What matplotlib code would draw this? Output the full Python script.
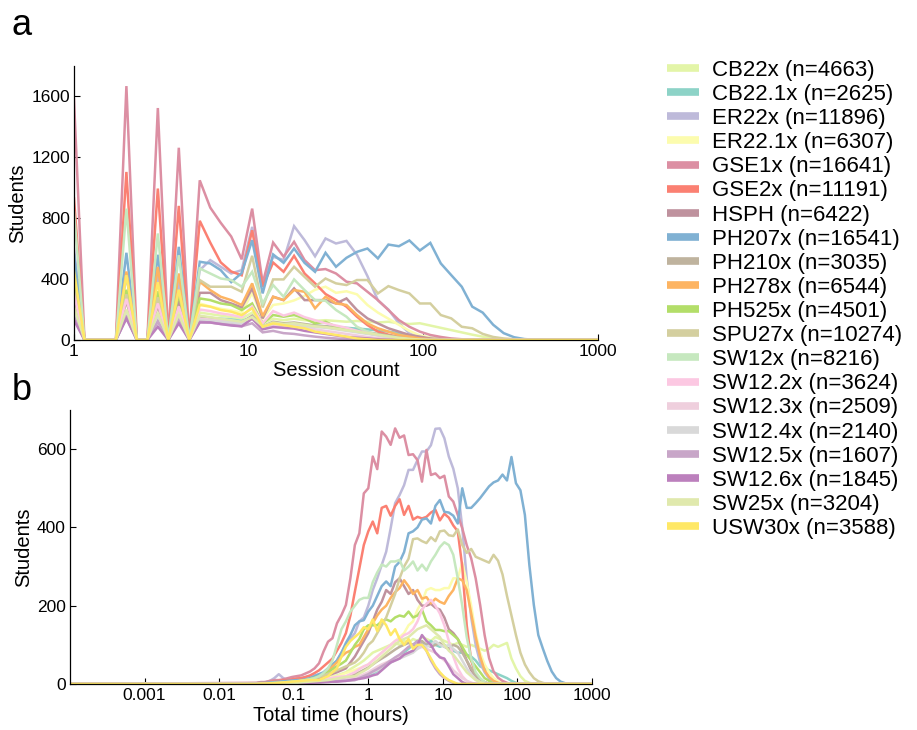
import numpy as np
import matplotlib
matplotlib.use("Agg")
import matplotlib.pyplot as plt
from matplotlib.lines import Line2D

plt.rcParams['font.family'] = ['Liberation Sans', 'DejaVu Sans']

# courses, enrolment counts and line colours (legend order = draw order)
courses = ['CB22x', 'CB22.1x', 'ER22x', 'ER22.1x', 'GSE1x', 'GSE2x', 'HSPH',
           'PH207x', 'PH210x', 'PH278x', 'PH525x', 'SPU27x', 'SW12x', 'SW12.2x',
           'SW12.3x', 'SW12.4x', 'SW12.5x', 'SW12.6x', 'SW25x', 'USW30x']
counts = [4663, 2625, 11896, 6307, 16641, 11191, 6422, 16541, 3035, 6544,
          4501, 10274, 8216, 3624, 2509, 2140, 1607, 1845, 3204, 3588]
colors = ['#e3f5a8', '#8dd3c7', '#bebada', '#fcfcae', '#dc8fa3', '#fb8072',
          '#bf929e', '#80b1d3', '#bfb39e', '#fdb462', '#b3de69', '#d4cf9f',
          '#c6e8bf', '#fcc8e2', '#efcfdd', '#d9d9d9', '#c8a6c8', '#bc80bd',
          '#e0e9ad', '#ffe866']

# panel a: students per session-count bin (log bins, 0.06 decade apart from 1)
sess_CB22x = [280, 0, 0, 0, 0, 250, 0, 0, 220, 0, 200, 0, 180, 170, 160, 150, 140, 180, 110, 140,
              130, 140, 130, 125, 130, 125, 120, 125, 120, 115, 120, 110, 105, 110, 95, 80, 65, 50,
              35, 22, 12, 5, 0]
sess_CB22_1x = [200, 0, 0, 0, 0, 150, 0, 0, 130, 0, 130, 0, 150, 145, 140, 135, 125, 150, 90, 110,
                100, 110, 100, 95, 90, 85, 80, 75, 70, 62, 55, 45, 35, 25, 15, 8, 3, 0]
sess_ER22x = [600, 0, 0, 0, 0, 420, 0, 0, 420, 0, 380, 0, 459, 525, 481, 437, 459, 743, 372, 547,
              525, 748, 656, 550, 667, 634, 651, 560, 420, 260, 200, 110, 45, 15, 5, 0]
sess_ER22_1x = [300, 0, 0, 0, 0, 280, 0, 0, 260, 0, 250, 0, 240, 220, 205, 195, 180, 310, 140, 230,
                240, 260, 290, 330, 350, 310, 320, 300, 230, 180, 140, 100, 60, 30, 15, 5, 0]
sess_GSE1x = [1580, 0, 0, 0, 0, 1668, 0, 0, 1524, 0, 1263, 0, 1049, 870, 770, 680, 530, 863, 372,
              640, 547, 645, 525, 459, 466, 437, 383, 372, 317, 262, 197, 131, 87, 55, 33, 20, 10,
              5, 2, 0]
sess_GSE2x = [930, 0, 0, 0, 0, 1104, 0, 0, 995, 0, 881, 0, 783, 640, 510, 450, 425, 721, 350, 509,
              448, 553, 437, 372, 302, 262, 219, 153, 98, 55, 35, 20, 10, 5, 2, 0]
sess_HSPH = [250, 0, 0, 0, 0, 260, 0, 0, 230, 0, 260, 0, 310, 310, 262, 240, 214, 339, 142, 284,
             262, 339, 262, 262, 262, 240, 273, 197, 142, 109, 77, 55, 33, 22, 10, 5, 0]
sess_PH207x = [560, 0, 0, 0, 0, 573, 0, 0, 560, 0, 612, 0, 514, 503, 459, 380, 440, 656, 306, 562,
               507, 601, 507, 448, 573, 481, 540, 579, 601, 536, 627, 616, 654, 588, 638, 503, 426,
               350, 219, 180, 100, 45, 18, 6, 2, 0]
sess_PH210x = [160, 0, 0, 0, 0, 150, 0, 0, 130, 0, 140, 0, 150, 145, 135, 125, 115, 160, 90, 120,
               110, 115, 105, 95, 90, 80, 70, 60, 50, 40, 30, 20, 12, 6, 2, 0]
sess_PH278x = [420, 0, 0, 0, 0, 450, 0, 0, 480, 0, 437, 0, 383, 328, 284, 262, 230, 372, 157, 284,
               262, 328, 317, 208, 284, 240, 230, 164, 109, 77, 55, 33, 22, 10, 5, 0]
sess_PH525x = [380, 0, 0, 0, 0, 330, 0, 0, 320, 0, 300, 0, 273, 262, 240, 230, 197, 240, 109, 164,
               153, 164, 142, 109, 120, 87, 77, 55, 44, 33, 22, 10, 5, 0]
sess_SPU27x = [330, 0, 0, 0, 0, 300, 0, 0, 280, 0, 330, 0, 394, 350, 350, 350, 317, 553, 214, 398,
               398, 481, 415, 350, 404, 372, 361, 394, 394, 306, 354, 328, 306, 240, 240, 164, 142,
               87, 77, 40, 20, 10, 5, 0]
sess_SW12x = [840, 0, 0, 0, 0, 863, 0, 0, 700, 0, 557, 0, 470, 437, 404, 394, 350, 448, 240, 361,
              284, 398, 328, 262, 258, 197, 153, 87, 55, 33, 15, 5, 0]
sess_SW12_2x = [300, 0, 0, 0, 0, 270, 0, 0, 240, 0, 220, 0, 200, 190, 175, 165, 150, 220, 110, 190,
                160, 180, 150, 130, 110, 95, 80, 60, 45, 30, 18, 8, 3, 0]
sess_SW12_3x = [200, 0, 0, 0, 0, 190, 0, 0, 170, 0, 160, 0, 140, 135, 130, 120, 110, 150, 80, 100,
                90, 95, 80, 70, 60, 50, 40, 30, 20, 12, 6, 2, 0]
sess_SW12_4x = [180, 0, 0, 0, 0, 180, 0, 0, 160, 0, 150, 0, 130, 125, 120, 115, 105, 140, 80, 110,
                100, 105, 90, 85, 80, 70, 60, 50, 40, 30, 20, 10, 4, 0]
sess_SW12_5x = [150, 0, 0, 0, 0, 160, 0, 0, 120, 0, 130, 0, 120, 115, 105, 100, 90, 110, 50, 60,
                45, 40, 30, 22, 15, 10, 5, 2, 0]
sess_SW12_6x = [130, 0, 0, 0, 0, 140, 0, 0, 87, 0, 109, 0, 115, 115, 105, 95, 90, 140, 70, 85,
                80, 75, 60, 50, 40, 30, 20, 15, 10, 5, 2, 0]
sess_SW25x = [220, 0, 0, 0, 0, 200, 0, 0, 180, 0, 170, 0, 160, 150, 140, 130, 120, 150, 90, 115,
              105, 110, 100, 90, 85, 75, 65, 55, 45, 35, 25, 15, 8, 3, 0]
sess_USW30x = [450, 0, 0, 0, 0, 426, 0, 0, 380, 0, 330, 0, 230, 219, 197, 186, 164, 208, 87, 109,
               98, 87, 77, 55, 44, 33, 22, 10, 5, 0]

# panel b: students per total-time bin (log bins, 0.06 decade apart from 10^-1.5 h)
time_CB22x = [0, 0, 1, 1, 2, 2, 3, 3, 4, 5, 6, 7, 8, 10, 12, 14, 16, 19, 22, 26,
              30, 38, 45, 52, 60, 70, 80, 85, 90, 95, 100, 105, 100, 110, 105, 115, 110, 120, 115, 110,
              120, 115, 110, 105, 100, 105, 100, 95, 100, 95, 90, 85, 90, 100, 95, 100, 105, 65, 40, 20,
              8, 3, 0]
time_CB22_1x = [0, 0, 0, 1, 1, 1, 2, 2, 2, 3, 3, 4, 5, 6, 7, 8, 9, 10, 11, 12,
                13, 14, 15, 17, 18, 20, 27, 33, 40, 48, 55, 62, 70, 80, 90, 100, 110, 105, 100, 110,
                100, 95, 100, 90, 85, 80, 80, 75, 70, 60, 45, 40, 35, 30, 25, 20, 15, 8, 3, 0]
time_ER22x = [2, 3, 5, 8, 15, 25, 15, 10, 12, 14, 15, 18, 20, 22, 25, 28, 32, 40, 60, 80,
              100, 115, 130, 160, 170, 200, 240, 270, 304, 338, 398, 462, 483, 508, 547, 547, 572, 594, 594, 610,
              652, 653, 628, 581, 550, 500, 400, 270, 170, 100, 55, 30, 14, 6, 2, 0]
time_ER22_1x = [0, 0, 1, 1, 2, 2, 3, 3, 4, 5, 6, 7, 8, 10, 12, 14, 16, 18, 20, 24,
                28, 32, 36, 40, 45, 50, 60, 70, 80, 90, 100, 110, 120, 130, 150, 160, 190, 210, 240, 245,
                240, 240, 245, 245, 270, 270, 310, 260, 200, 130, 80, 50, 30, 15, 7, 3, 0]
time_GSE1x = [3, 5, 5, 8, 10, 10, 12, 15, 18, 20, 22, 27, 32, 40, 53, 83, 108, 117, 155, 176,
              202, 270, 355, 385, 487, 500, 581, 549, 645, 632, 611, 653, 629, 635, 585, 587, 572, 517, 598, 534,
              538, 526, 532, 479, 466, 432, 398, 355, 321, 270, 202, 125, 66, 32, 16, 8, 3, 0]
time_GSE2x = [2, 3, 4, 5, 6, 8, 9, 10, 12, 14, 15, 18, 22, 28, 35, 45, 55, 65, 85, 105,
              130, 175, 236, 295, 355, 390, 415, 385, 450, 455, 430, 455, 472, 432, 455, 420, 427, 423, 427, 438,
              445, 418, 435, 425, 405, 390, 300, 150, 60, 25, 10, 4, 0]
time_HSPH = [0, 0, 1, 1, 2, 2, 3, 3, 4, 5, 6, 8, 10, 12, 15, 18, 22, 26, 30, 35,
             40, 55, 70, 90, 110, 130, 160, 190, 210, 240, 230, 260, 270, 250, 230, 240, 215, 200, 200, 205,
             195, 190, 170, 140, 130, 115, 90, 60, 35, 20, 10, 5, 0]
time_PH207x = [2, 3, 3, 4, 5, 6, 7, 8, 9, 10, 10, 12, 15, 20, 25, 30, 40, 50, 60, 80,
               105, 125, 150, 160, 163, 185, 200, 225, 250, 262, 250, 300, 312, 337, 385, 390, 400, 420, 423, 410,
               455, 470, 440, 438, 430, 410, 500, 450, 450, 462, 475, 490, 505, 515, 520, 535, 520, 580, 513, 495,
               432, 304, 202, 125, 91, 59, 32, 15, 6, 2, 0]
time_PH210x = [0, 0, 0, 1, 1, 1, 2, 2, 2, 3, 3, 4, 4, 5, 6, 7, 8, 10, 12, 14,
               16, 20, 25, 30, 36, 42, 50, 58, 65, 72, 80, 88, 95, 100, 105, 100, 95, 110, 100, 95,
               100, 105, 95, 90, 100, 95, 80, 60, 40, 22, 10, 4, 0]
time_PH278x = [0, 1, 1, 2, 2, 3, 3, 4, 5, 6, 8, 10, 12, 15, 18, 20, 30, 45, 55, 70,
               80, 85, 95, 100, 120, 140, 155, 175, 190, 200, 220, 235, 245, 265, 250, 230, 240, 218, 222, 206,
               218, 210, 205, 225, 240, 270, 265, 240, 180, 120, 70, 35, 18, 8, 3, 0]
time_PH525x = [0, 0, 1, 1, 2, 2, 3, 4, 5, 6, 8, 10, 13, 16, 20, 25, 30, 38, 45, 52,
               60, 80, 100, 115, 140, 150, 150, 150, 160, 165, 160, 170, 175, 172, 185, 170, 175, 190, 160, 150,
               138, 138, 135, 135, 125, 115, 95, 75, 60, 45, 30, 15, 8, 0]
time_SPU27x = [0, 0, 1, 1, 2, 2, 3, 4, 5, 6, 8, 10, 12, 15, 18, 22, 26, 30, 35, 40,
               45, 50, 55, 65, 80, 100, 110, 130, 150, 170, 200, 230, 270, 300, 320, 370, 372, 365, 360, 375,
               365, 390, 392, 380, 378, 395, 355, 335, 345, 325, 320, 315, 310, 330, 315, 280, 225, 175, 125, 80,
               50, 30, 15, 7, 3, 0]
time_SW12x = [1, 1, 2, 2, 3, 3, 4, 5, 6, 7, 8, 10, 12, 15, 20, 28, 40, 60, 100, 140,
              160, 185, 200, 215, 220, 220, 260, 285, 305, 300, 313, 313, 317, 290, 300, 313, 290, 305, 290, 313,
              330, 350, 362, 355, 330, 270, 200, 120, 65, 30, 15, 5, 0]
time_SW12_2x = [0, 0, 1, 1, 1, 2, 2, 3, 3, 4, 5, 6, 7, 8, 10, 12, 14, 16, 18, 19,
                20, 25, 30, 38, 45, 50, 60, 70, 80, 90, 100, 110, 115, 125, 130, 140, 160, 190, 205, 215,
                200, 180, 150, 110, 70, 40, 20, 8, 3, 0]
time_SW12_3x = [0, 0, 0, 1, 1, 1, 2, 2, 2, 3, 3, 4, 4, 5, 6, 7, 8, 9, 10, 11,
                12, 14, 15, 20, 25, 30, 37, 44, 50, 55, 60, 65, 70, 75, 80, 85, 90, 95, 90, 85,
                80, 70, 60, 50, 35, 25, 15, 8, 3, 0]
time_SW12_4x = [0, 0, 0, 0, 1, 1, 1, 2, 2, 2, 3, 3, 4, 4, 5, 5, 6, 7, 8, 8,
                9, 9, 10, 15, 20, 25, 30, 35, 40, 48, 55, 60, 65, 70, 75, 80, 90, 100, 95, 100,
                110, 100, 95, 100, 90, 80, 60, 40, 25, 12, 5, 0]
time_SW12_5x = [0, 0, 0, 1, 1, 1, 2, 2, 2, 3, 3, 3, 4, 4, 5, 5, 6, 6, 7, 8,
                8, 9, 10, 15, 20, 25, 32, 38, 45, 52, 60, 68, 75, 85, 95, 100, 110, 100, 85, 60,
                40, 25, 15, 8, 3, 0]
time_SW12_6x = [0, 0, 0, 1, 1, 1, 1, 2, 2, 2, 3, 3, 3, 4, 4, 5, 5, 6, 6, 7,
                8, 10, 12, 13, 15, 18, 22, 25, 35, 45, 55, 60, 65, 75, 80, 85, 100, 125, 110, 100,
                80, 68, 65, 45, 25, 15, 5, 0]
time_SW25x = [0, 0, 0, 1, 1, 1, 2, 2, 3, 3, 4, 5, 6, 7, 8, 9, 10, 12, 14, 16,
              18, 19, 20, 27, 33, 40, 50, 60, 70, 80, 90, 100, 110, 115, 120, 130, 140, 145, 150, 140,
              130, 120, 100, 85, 75, 60, 45, 30, 20, 10, 5, 0]
time_USW30x = [0, 1, 1, 2, 2, 3, 4, 5, 6, 7, 8, 9, 10, 10, 10, 15, 20, 30, 40, 70,
               95, 110, 120, 130, 145, 140, 165, 135, 165, 150, 125, 140, 115, 100, 115, 90, 100, 100, 85, 65,
               45, 30, 18, 10, 5, 0]

session_series = [sess_CB22x, sess_CB22_1x, sess_ER22x, sess_ER22_1x, sess_GSE1x, sess_GSE2x,
                  sess_HSPH, sess_PH207x, sess_PH210x, sess_PH278x, sess_PH525x, sess_SPU27x,
                  sess_SW12x, sess_SW12_2x, sess_SW12_3x, sess_SW12_4x, sess_SW12_5x, sess_SW12_6x,
                  sess_SW25x, sess_USW30x]
time_series = [time_CB22x, time_CB22_1x, time_ER22x, time_ER22_1x, time_GSE1x, time_GSE2x,
               time_HSPH, time_PH207x, time_PH210x, time_PH278x, time_PH525x, time_SPU27x,
               time_SW12x, time_SW12_2x, time_SW12_3x, time_SW12_4x, time_SW12_5x, time_SW12_6x,
               time_SW25x, time_USW30x]

# bin centres
session_x = 10 ** (0.06 * np.arange(60))
time_x = 10 ** (-1.5 + 0.06 * np.arange(80))


def style_axis(ax):
    ax.spines['top'].set_visible(False)
    ax.spines['right'].set_visible(False)
    ax.spines['left'].set_linewidth(0.9)
    ax.spines['bottom'].set_linewidth(0.9)
    ax.tick_params(direction='in', length=4, width=0.8, labelsize=12.5, pad=3)
    ax.minorticks_off()


fig = plt.figure(figsize=(9.17, 7.30), dpi=100)
ax_a = fig.add_axes([74 / 917, 1 - 340 / 730, 524 / 917, 274 / 730])
ax_b = fig.add_axes([70 / 917, 1 - 684 / 730, 522 / 917, 274 / 730])

for vals, col in zip(session_series, colors):
    x = np.concatenate([session_x[:len(vals)], [1000]])
    y = np.concatenate([vals, [0]])
    ax_a.plot(x, y, color=col, lw=1.8, solid_joinstyle='miter')

for vals, col in zip(time_series, colors):
    x = np.concatenate([[1e-4], time_x[:len(vals)], [1000]])
    y = np.concatenate([[0], vals, [0]])
    ax_b.plot(x, y, color=col, lw=1.8)

ax_a.set_xscale('log')
ax_a.set_xlim(1, 1000)
ax_a.set_ylim(0, 1800)
ax_a.set_xticks([1, 10, 100, 1000])
ax_a.set_xticklabels(['1', '10', '100', '1000'])
ax_a.set_yticks([0, 400, 800, 1200, 1600])
style_axis(ax_a)
ax_a.set_xlabel('Session count', fontsize=14.5, labelpad=1)
ax_a.set_ylabel('Students', fontsize=14.5, labelpad=3)

ax_b.set_xscale('log')
ax_b.set_xlim(1e-4, 1000)
ax_b.set_ylim(0, 700)
ax_b.set_xticks([0.001, 0.01, 0.1, 1, 10, 100, 1000])
ax_b.set_xticklabels(['0.001', '0.01', '0.1', '1', '10', '100', '1000'])
ax_b.set_yticks([0, 200, 400, 600])
style_axis(ax_b)
ax_b.set_xlabel('Total time (hours)', fontsize=14.5, labelpad=2)
ax_b.set_ylabel('Students', fontsize=14.5, labelpad=3)

fig.text(0.013, 1 - 35 / 730, 'a', fontsize=26, va='baseline')
fig.text(0.013, 1 - 400 / 730, 'b', fontsize=26, va='baseline')

handles = [Line2D([], [], color=c, lw=5.5, solid_capstyle='butt') for c in colors]
labels = [f'{c} (n={n})' for c, n in zip(courses, counts)]
fig.legend(handles, labels, loc='upper left', bbox_to_anchor=(0.727, 0.918),
           frameon=False, fontsize=16, handlelength=1.45, handletextpad=0.6,
           labelspacing=0.14, borderaxespad=0, borderpad=0)

fig.savefig('out.png', dpi=100)
